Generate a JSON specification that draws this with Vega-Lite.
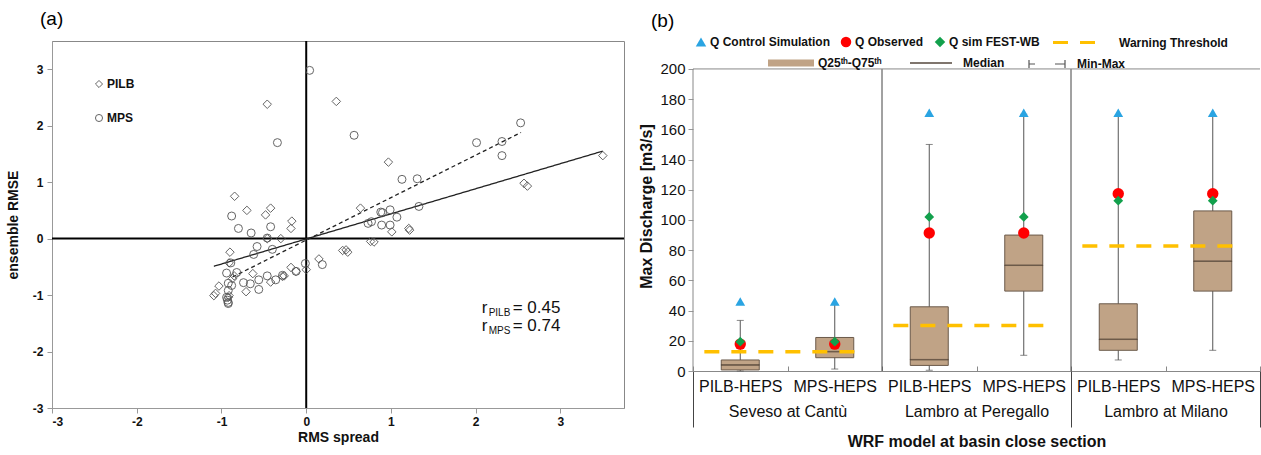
{
  "$schema": "https://vega.github.io/schema/vega-lite/v6.json",
  "padding": {"left": 5, "top": 9, "right": 0, "bottom": 0},
  "spacing": 12,
  "config": {"font": "Liberation Sans", "view": {"stroke": "#888"}},
  "resolve": {"scale": {"shape": "independent", "color": "independent", "strokeDash": "independent", "fill": "independent", "stroke": "independent", "opacity": "independent", "size": "independent"}, "legend": {"shape": "independent", "color": "independent", "strokeDash": "independent", "fill": "independent", "stroke": "independent", "opacity": "independent", "size": "independent"}},
  "datasets": {
    "scatter": [
      {"s":"PILB","x":-0.46,"y":2.38},{"s":"PILB","x":0.355,"y":2.43},{"s":"PILB","x":0.97,"y":1.355},{"s":"PILB","x":3.5,"y":1.47},{"s":"PILB","x":2.57,"y":0.98},{"s":"PILB","x":2.61,"y":0.93},{"s":"PILB","x":0.64,"y":0.54},{"s":"PILB","x":-0.845,"y":0.75},{"s":"PILB","x":-0.7,"y":0.5},{"s":"PILB","x":-0.42,"y":0.54},{"s":"PILB","x":-0.48,"y":0.42},{"s":"PILB","x":-0.17,"y":0.31},{"s":"PILB","x":-0.18,"y":0.18},{"s":"PILB","x":-0.46,"y":0.0},{"s":"PILB","x":-0.3,"y":0.0},{"s":"PILB","x":1.01,"y":0.12},{"s":"PILB","x":1.21,"y":0.18},{"s":"PILB","x":1.22,"y":0.15},{"s":"PILB","x":0.76,"y":-0.05},{"s":"PILB","x":0.8,"y":-0.06},{"s":"PILB","x":0.43,"y":-0.21},{"s":"PILB","x":0.47,"y":-0.2},{"s":"PILB","x":0.49,"y":-0.24},{"s":"PILB","x":-0.9,"y":-0.24},{"s":"PILB","x":-0.91,"y":-0.43},{"s":"PILB","x":-0.87,"y":-0.71},{"s":"PILB","x":-0.85,"y":-0.66},{"s":"PILB","x":-0.63,"y":-0.62},{"s":"PILB","x":-0.71,"y":-0.94},{"s":"PILB","x":-1.03,"y":-0.84},{"s":"PILB","x":-1.09,"y":-1.01},{"s":"PILB","x":-1.07,"y":-0.97},{"s":"PILB","x":-0.18,"y":-0.51},{"s":"PILB","x":-0.12,"y":-0.58},{"s":"PILB","x":-0.28,"y":-0.67},{"s":"PILB","x":-0.26,"y":-0.66},{"s":"PILB","x":0.15,"y":-0.36},{"s":"PILB","x":0.0,"y":-0.55},{"s":"PILB","x":-0.42,"y":-0.77},{"s":"PILB","x":-0.92,"y":-1.04},{"s":"PILB","x":-0.91,"y":-1.01},
      {"s":"MPS","x":0.04,"y":2.98},{"s":"MPS","x":-0.34,"y":1.7},{"s":"MPS","x":0.565,"y":1.83},{"s":"MPS","x":2.53,"y":2.05},{"s":"MPS","x":2.01,"y":1.7},{"s":"MPS","x":2.31,"y":1.72},{"s":"MPS","x":2.31,"y":1.47},{"s":"MPS","x":1.13,"y":1.05},{"s":"MPS","x":1.31,"y":1.06},{"s":"MPS","x":1.33,"y":0.57},{"s":"MPS","x":0.88,"y":0.47},{"s":"MPS","x":0.9,"y":0.46},{"s":"MPS","x":0.99,"y":0.51},{"s":"MPS","x":1.07,"y":0.38},{"s":"MPS","x":0.77,"y":0.3},{"s":"MPS","x":0.73,"y":0.27},{"s":"MPS","x":0.89,"y":0.24},{"s":"MPS","x":0.99,"y":0.24},{"s":"MPS","x":-0.88,"y":0.4},{"s":"MPS","x":-0.8,"y":0.18},{"s":"MPS","x":-0.65,"y":0.1},{"s":"MPS","x":-0.42,"y":0.21},{"s":"MPS","x":-0.46,"y":0.01},{"s":"MPS","x":-0.58,"y":-0.14},{"s":"MPS","x":-0.4,"y":-0.19},{"s":"MPS","x":-0.62,"y":-0.28},{"s":"MPS","x":-0.89,"y":-0.43},{"s":"MPS","x":-0.94,"y":-0.61},{"s":"MPS","x":-0.92,"y":-0.79},{"s":"MPS","x":-0.92,"y":-0.92},{"s":"MPS","x":-0.94,"y":-1.04},{"s":"MPS","x":-0.93,"y":-1.09},{"s":"MPS","x":-0.92,"y":-1.13},{"s":"MPS","x":-0.92,"y":-1.15},{"s":"MPS","x":-0.74,"y":-0.78},{"s":"MPS","x":-0.66,"y":-0.8},{"s":"MPS","x":-0.56,"y":-0.73},{"s":"MPS","x":-0.56,"y":-0.9},{"s":"MPS","x":-0.46,"y":-0.66},{"s":"MPS","x":-0.36,"y":-0.73},{"s":"MPS","x":-0.28,"y":-0.65},{"s":"MPS","x":-0.12,"y":-0.58},{"s":"MPS","x":-0.01,"y":-0.44},{"s":"MPS","x":0.19,"y":-0.46},{"s":"MPS","x":-0.82,"y":-0.6},{"s":"MPS","x":-0.88,"y":-0.83}
    ],
    "fits": [
      {"s":"PILB","x":-1.09,"y":-0.49},{"s":"PILB","x":3.5,"y":1.55},
      {"s":"MPS","x":-0.87,"y":-0.68},{"s":"MPS","x":2.535,"y":1.88}
    ],
    "axes0": [{"v": 0}],
    "notes": [
      {"x":2.07,"y":-1.23,"r":"r","sub":"PILB","val":"= 0.45"},
      {"x":2.07,"y":-1.55,"r":"r","sub":"MPS","val":"= 0.74"}
    ],
    "boxes": [
      {"key":"Seveso at Cantù|PILB-HEPS","q1":0.7,"q3":7.3,"med":4,"min":0,"max":33.5},
      {"key":"Seveso at Cantù|MPS-HEPS","q1":8.8,"q3":22.2,"med":12.8,"min":1.3,"max":44},
      {"key":"Lambro at Peregallo|PILB-HEPS","q1":3.7,"q3":42.5,"med":7.5,"min":0.5,"max":150},
      {"key":"Lambro at Peregallo|MPS-HEPS","q1":52.9,"q3":90,"med":70,"min":10.4,"max":170},
      {"key":"Lambro at Milano|PILB-HEPS","q1":13.7,"q3":44.5,"med":21,"min":7.3,"max":169},
      {"key":"Lambro at Milano|MPS-HEPS","q1":52.9,"q3":106,"med":72.7,"min":13.7,"max":169}
    ],
    "marks": [
      {"key":"Seveso at Cantù|PILB-HEPS","kind":"Q Control Simulation","v":46},
      {"key":"Seveso at Cantù|MPS-HEPS","kind":"Q Control Simulation","v":46},
      {"key":"Lambro at Peregallo|PILB-HEPS","kind":"Q Control Simulation","v":171},
      {"key":"Lambro at Peregallo|MPS-HEPS","kind":"Q Control Simulation","v":171},
      {"key":"Lambro at Milano|PILB-HEPS","kind":"Q Control Simulation","v":171},
      {"key":"Lambro at Milano|MPS-HEPS","kind":"Q Control Simulation","v":171},
      {"key":"Seveso at Cantù|PILB-HEPS","kind":"Q Observed","v":17.8},
      {"key":"Seveso at Cantù|MPS-HEPS","kind":"Q Observed","v":17.8},
      {"key":"Lambro at Peregallo|PILB-HEPS","kind":"Q Observed","v":91.4},
      {"key":"Lambro at Peregallo|MPS-HEPS","kind":"Q Observed","v":91.4},
      {"key":"Lambro at Milano|PILB-HEPS","kind":"Q Observed","v":117.4},
      {"key":"Lambro at Milano|MPS-HEPS","kind":"Q Observed","v":117.4},
      {"key":"Seveso at Cantù|PILB-HEPS","kind":"Q sim FEST-WB","v":19.4},
      {"key":"Seveso at Cantù|MPS-HEPS","kind":"Q sim FEST-WB","v":19.4},
      {"key":"Lambro at Peregallo|PILB-HEPS","kind":"Q sim FEST-WB","v":102},
      {"key":"Lambro at Peregallo|MPS-HEPS","kind":"Q sim FEST-WB","v":102},
      {"key":"Lambro at Milano|PILB-HEPS","kind":"Q sim FEST-WB","v":112.8},
      {"key":"Lambro at Milano|MPS-HEPS","kind":"Q sim FEST-WB","v":112.8}
    ],
    "thresholds": [
      {"station":"Seveso at Cantù","thr":12.8},
      {"station":"Lambro at Peregallo","thr":30.2},
      {"station":"Lambro at Milano","thr":82.8}
    ],
    "frame": [{"top": 200}]
  },
  "hconcat": [
    {
      "title": {"text": "(a)", "anchor": "start", "frame": "group", "fontSize": 19, "fontWeight": "normal", "dx": -12, "offset": 11},
      "width": 572,
      "height": 367,
      "layer": [
        {"data": {"name": "axes0"}, "mark": {"type": "rule", "color": "#000", "strokeWidth": 2}, "encoding": {"x": {"field": "v", "type": "quantitative"}}},
        {"data": {"name": "axes0"}, "mark": {"type": "rule", "color": "#000", "strokeWidth": 2}, "encoding": {"y": {"field": "v", "type": "quantitative"}}},
        {"data": {"name": "fits"}, "mark": {"type": "line", "color": "#222", "strokeWidth": 1.3},
          "encoding": {"x": {"field": "x", "type": "quantitative"}, "y": {"field": "y", "type": "quantitative"}, "detail": {"field": "s"},
            "strokeDash": {"condition": {"test": "datum.s === 'MPS'", "value": [4, 3]}, "value": [1, 0]}}},
        {"data": {"name": "scatter"}, "mark": {"type": "point", "filled": false, "stroke": "#555", "strokeWidth": 1, "opacity": 0.9},
          "encoding": {
            "x": {"field": "x", "type": "quantitative", "scale": {"domain": [-3, 3.75], "nice": false, "zero": false},
              "axis": {"title": "RMS spread", "values": [-3,-2,-1,0,1,2,3], "labelExpr": "datum.value < 0 ? '-' + abs(datum.value) : '' + datum.value", "grid": false, "labelFontWeight": "bold", "labelFontSize": 12, "labelColor": "#111", "titleFontSize": 14, "titleFontWeight": "bold", "titleColor": "#111", "titlePadding": 3, "domainColor": "#999", "tickColor": "#999", "tickSize": 5, "labelPadding": 3}},
            "y": {"field": "y", "type": "quantitative", "scale": {"domain": [-3, 3.5], "nice": false, "zero": false},
              "axis": {"title": "ensemble RMSE", "values": [-3,-2,-1,0,1,2,3], "labelExpr": "datum.value < 0 ? '-' + abs(datum.value) : '' + datum.value", "grid": false, "labelFontWeight": "bold", "labelFontSize": 12, "labelColor": "#111", "titleFontSize": 14, "titleFontWeight": "bold", "titleColor": "#111", "titlePadding": 12, "domainColor": "#999", "tickColor": "#999", "tickSize": 5, "labelPadding": 4}},
            "size": {"condition": {"test": "datum.s === 'PILB'", "value": 72}, "value": 64},
            "shape": {"field": "s", "type": "nominal", "scale": {"domain": ["PILB", "MPS"], "range": ["diamond", "circle"]},
              "legend": {"title": null, "orient": "none", "legendX": 41, "legendY": 37, "direction": "vertical", "labelFontWeight": "bold", "labelFontSize": 12, "labelColor": "#111", "symbolSize": 50, "symbolStrokeColor": "#555", "symbolStrokeWidth": 1, "rowPadding": 22, "labelOffset": 2, "padding": 0}}}},
        {"data": {"name": "notes"}, "mark": {"type": "text", "align": "left", "baseline": "middle", "fontSize": 17, "color": "#111"}, "encoding": {"x": {"field": "x", "type": "quantitative"}, "y": {"field": "y", "type": "quantitative"}, "text": {"field": "r"}}},
        {"data": {"name": "notes"}, "mark": {"type": "text", "align": "left", "baseline": "middle", "fontSize": 10, "dx": 7, "dy": 5, "color": "#111"}, "encoding": {"x": {"field": "x", "type": "quantitative"}, "y": {"field": "y", "type": "quantitative"}, "text": {"field": "sub"}}},
        {"data": {"name": "notes"}, "mark": {"type": "text", "align": "left", "baseline": "middle", "fontSize": 17, "dx": 31, "color": "#111"}, "encoding": {"x": {"field": "x", "type": "quantitative"}, "y": {"field": "y", "type": "quantitative"}, "text": {"field": "val"}}}
      ]
    },
    {
      "title": {"text": "(b)", "anchor": "start", "frame": "group", "fontSize": 19, "fontWeight": "normal", "dx": -42, "offset": 5},
      "width": 567,
      "height": 330,
      "view": {"stroke": null},
      "resolve": {"scale": {"x": "independent"}, "axis": {"x": "independent"}},
      "encoding": {
        "y": {"type": "quantitative", "scale": {"domain": [0, 218.5], "nice": false},
          "axis": {"title": "Max Discharge [m3/s]", "tickCount": 11, "labelOverlap": false, "labelSeparation": -20, "grid": false, "domain": false, "labelFontSize": 15, "labelColor": "#111", "titleFontSize": 16, "titleFontWeight": "bold", "titleColor": "#111", "titlePadding": 5, "tickColor": "#999", "tickSize": 5, "labelPadding": 3}}
      },
      "layer": [
        {
          "encoding": {
            "x": {"field": "key", "type": "nominal", "sort": null,
              "scale": {"domain": ["Seveso at Cantù|PILB-HEPS", "Seveso at Cantù|MPS-HEPS", "Lambro at Peregallo|PILB-HEPS", "Lambro at Peregallo|MPS-HEPS", "Lambro at Milano|PILB-HEPS", "Lambro at Milano|MPS-HEPS"], "paddingInner": 0, "paddingOuter": 0},
              "axis": {"title": null, "labelExpr": "split(datum.value, '|')[1]", "labelAngle": 0, "labelFontSize": 16, "labelColor": "#111", "tickBand": "extent", "tickSize": -5, "tickColor": "#888", "domainColor": "#888", "labelPadding": 12}}
          },
          "layer": [
            {"data": {"name": "boxes"}, "mark": {"type": "rule", "color": "#555", "strokeWidth": 1},
              "encoding": {"y": {"field": "min", "type": "quantitative"},
                "y2": {"field": "max"},
                "opacity": {"datum": "Min-Max", "type": "ordinal", "scale": {"range": [1]},
                  "legend": {"title": null, "orient": "none", "legendX": 348, "legendY": 17, "symbolType": "M-3.6,-0.8V0.8M-3.6,0H-2.4M1.6,0H3.6M3.6,-0.8V0.8", "symbolSize": 100, "symbolStrokeColor": "#555", "symbolStrokeWidth": 1.2, "symbolFillColor": "transparent", "labelFontSize": 12, "labelFontWeight": "bold", "labelColor": "#111", "labelOffset": 24, "padding": 0}}}},
            {"data": {"name": "boxes"}, "mark": {"type": "tick", "color": "#555", "thickness": 1, "size": 7}, "encoding": {"y": {"field": "min", "type": "quantitative"}}},
            {"data": {"name": "boxes"}, "mark": {"type": "tick", "color": "#555", "thickness": 1, "size": 7}, "encoding": {"y": {"field": "max", "type": "quantitative"}}},
            {"data": {"name": "boxes"}, "mark": {"type": "bar", "width": 38, "stroke": "#6b5a4a", "strokeWidth": 1},
              "encoding": {"y": {"field": "q1", "type": "quantitative"}, "y2": {"field": "q3"},
                "fill": {"datum": "Q25ᵗʰ-Q75ᵗʰ", "type": "nominal", "scale": {"range": ["#C0A386"]},
                  "legend": {"title": null, "orient": "none", "legendX": 92, "legendY": 16, "symbolType": "M-4.6,-0.7H4.6V0.7H-4.6Z", "symbolSize": 100, "symbolStrokeWidth": 0, "labelFontSize": 12, "labelFontWeight": "bold", "labelColor": "#111", "labelOffset": 21, "padding": 0}}}},
            {"data": {"name": "boxes"}, "mark": {"type": "tick", "thickness": 0.5, "size": 38, "fill": "#4a3c30", "strokeWidth": 1},
              "encoding": {"y": {"field": "med", "type": "quantitative"},
                "stroke": {"datum": "Median", "type": "nominal", "scale": {"range": ["#4a3c30"]},
                  "legend": {"title": null, "orient": "none", "legendX": 232, "legendY": 16, "symbolType": "M-4.2,0H4.2", "symbolSize": 100, "symbolStrokeColor": "#777", "symbolStrokeWidth": 2, "labelFontSize": 12, "labelFontWeight": "bold", "labelColor": "#111", "labelOffset": 26, "padding": 0}}}},
            {"data": {"name": "marks"}, "mark": {"type": "point", "filled": true, "opacity": 1},
              "encoding": {"y": {"field": "v", "type": "quantitative"},
                "size": {"condition": {"test": "datum.kind === 'Q Observed'", "value": 130}, "value": 95},
                "color": {"field": "kind", "type": "nominal", "scale": {"domain": ["Q Control Simulation", "Q Observed", "Q sim FEST-WB"], "range": ["#2AA4E2", "#FF0000", "#12A04C"]},
                  "legend": {"title": null, "orient": "none", "legendX": 2, "legendY": -5, "direction": "horizontal", "labelFontSize": 12, "labelFontWeight": "bold", "labelColor": "#111", "labelOffset": 3, "columnPadding": 10, "symbolSize": 110, "padding": 0}},
                "shape": {"field": "kind", "type": "nominal", "scale": {"domain": ["Q Control Simulation", "Q Observed", "Q sim FEST-WB"], "range": ["triangle-up", "circle", "diamond"]}}}}
          ]
        },
        {
          "layer": [
            {"data": {"name": "thresholds"}, "mark": {"type": "rule", "strokeWidth": 1},
              "encoding": {
                "x": {"field": "station", "type": "nominal", "sort": null, "bandPosition": 0,
                  "scale": {"domain": ["Seveso at Cantù", "Lambro at Peregallo", "Lambro at Milano"], "paddingInner": 0, "paddingOuter": 0},
                  "axis": {"orient": "bottom", "title": "WRF model at basin close section", "titleFontSize": 16, "titleFontWeight": "bold", "titleColor": "#111", "titlePadding": 6, "labelFontSize": 16, "labelColor": "#111", "labelAngle": 0, "labelPadding": -24, "tickBand": "extent", "tickSize": 56, "tickColor": "#444", "grid": false, "domain": false,
                    "tickOpacity": {"condition": {"test": "datum.value === 'Seveso at Cantù'", "value": 0}, "value": 1}}},
                "y": {"datum": 0, "type": "quantitative"},
                "y2": {"datum": 200},
                "color": {"condition": {"test": "datum.station === 'Seveso at Cantù'", "value": "#888"}, "value": "#444"}}},
            {"data": {"name": "frame"}, "mark": {"type": "rule", "color": "#888", "strokeWidth": 1},
              "encoding": {"y": {"field": "top", "type": "quantitative"}}},
            {"data": {"name": "thresholds"}, "mark": {"type": "rule", "color": "#FFC000", "strokeWidth": 3.5},
              "encoding": {
                "x": {"field": "station", "type": "nominal", "bandPosition": 0.06},
                "x2": {"field": "station", "bandPosition": 0.91},
                "y": {"field": "thr", "type": "quantitative"},
                "strokeDash": {"datum": "Warning Threshold", "type": "nominal", "scale": {"range": [[15, 12]]},
                  "legend": {"title": null, "orient": "none", "legendX": 380, "legendY": -5, "symbolType": "M-5.3,0H5.3", "symbolSize": 100, "symbolStrokeColor": "#FFC000", "symbolStrokeWidth": 3, "symbolDash": [12, 9], "labelFontSize": 12, "labelFontWeight": "bold", "labelColor": "#111", "labelOffset": 33, "padding": 0}}}}
          ]
        }
      ]
    }
  ]
}
